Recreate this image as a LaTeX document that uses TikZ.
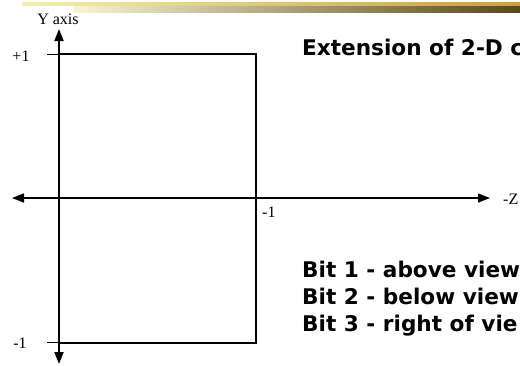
\documentclass[tikz,border=0pt]{standalone}
\usepackage{fontspec}
\setmainfont{Liberation Serif}
\newfontfamily\slidefont{DejaVu Sans}
\usetikzlibrary{arrows.meta,positioning}
\definecolor{bandpale}{HTML}{F3EFB0}
\definecolor{bandgold}{HTML}{C8A040}
\definecolor{banddark}{HTML}{5A4818}

\begin{document}
\begin{tikzpicture}[x=1pt, y=-1pt,
        axisline/.style={line width=1.4pt, {Triangle[length=12pt, width=9pt]}-{Triangle[length=12pt, width=9pt]}},
        viewport/.style={line width=2pt},
        tickline/.style={line width=0.8pt},
        axislabel/.style={font=\fontsize{16}{18}\selectfont, inner sep=0pt},
        slidetext/.style={font=\slidefont\bfseries\fontsize{21.6}{25}\selectfont, inner sep=0pt, anchor=base west}
    ]
        \useasboundingbox (0,0) rectangle (520,365);
        \clip (0,0) rectangle (520,365);

        % title bar stripes
        \shade[left color=bandpale, right color=bandgold] (22,2) rectangle (520,5);
        \shade[left color=bandpale!60!white, right color=banddark] (73,6) rectangle (520,12);

        % axes
        \coordinate (ytop) at (59,29);
        \coordinate (ybot) at (59,364);
        \coordinate (zleft) at (12,198);
        \coordinate (zright) at (490,198);
        \draw[axisline, line width=2pt] (ytop) -- (ybot);
        \draw[axisline] (zleft) -- (zright);

        % view volume
        \coordinate (vtl) at (59,54);
        \coordinate (vbr) at (255.5,342.5);
        \draw[viewport] (vtl) rectangle (vbr);
        \draw[tickline] (47,54) -- (vtl);
        \draw[tickline] (47,342.5) -- (59,342.5);

        % labels
        \node (ylabel) [axislabel] at (58,19) {Y axis};
        \node (plusone) [axislabel] at (21,56) {+1};
        \node (minusone) [axislabel] at (20,343) {-1};
        \node (zminusone) [axislabel, anchor=west] at (262,212) {-1};
        \node (zlabel) [axislabel, anchor=west] at (503,199) {-Z};

        % slide text
        \node (title) [slidetext] at (302,55) {Extension of 2-D c};
        \node (bit1) [slidetext] at (302,277) {Bit 1 - above view};
        \node (bit2) [slidetext, below=27pt of bit1.base west, anchor=base west] {Bit 2 - below view};
        \node (bit3) [slidetext, below=27pt of bit2.base west, anchor=base west] {Bit 3 - right of vie};
    \end{tikzpicture}
\end{document}
